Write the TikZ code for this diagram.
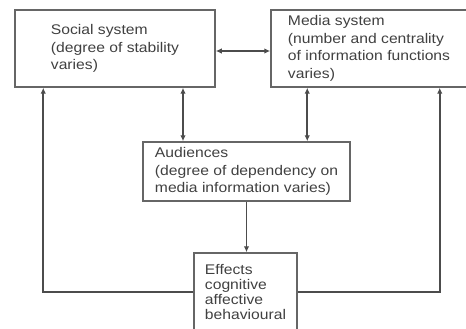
\documentclass[tikz,border=0pt]{standalone}
\usepackage{fontspec}
\setmainfont{Liberation Sans}[FakeStretch=1.12]
\usetikzlibrary{arrows.meta,positioning}

\begin{document}
\begin{tikzpicture}[
  x=1pt, y=-1pt,
  box/.style={draw=black!60, line width=1.5pt, align=left, text=black!75, font=\fontsize{14}{17.5}\selectfont, inner sep=0pt},
  arrow/.style={-{Latex[length=6pt, width=5.5pt]}, draw=black!70, line width=1.8pt},
  dblarrow/.style={{Latex[length=6pt, width=5.5pt]}-{Latex[length=6pt, width=5.5pt]}, draw=black!70, line width=1.8pt}
]
\useasboundingbox (0,0) rectangle (466,329);
\node[box, minimum width=200pt, minimum height=77pt] (social) at (115,48.5) {Social system\\(degree of stability\\varies)};
\node[box, minimum width=196pt, minimum height=77pt] (media) at (369,48.5) {Media system\\(number and centrality\\of information functions\\varies)};
\node[box, minimum width=207pt, minimum height=59pt] (aud) at (246.5,171.5) {Audiences\\(degree of dependency on\\media information varies)};
\node[box, minimum width=103pt, minimum height=78pt, font=\fontsize{14}{15}\selectfont] (effects) at (245.5,292) {Effects\\cognitive\\affective\\behavioural};
\coordinate (sa) at ([xshift=68pt]social.south);
\coordinate (ma) at ([xshift=37pt]media.south west);
\coordinate (se) at ([xshift=29pt]social.south west);
\coordinate (me) at ([xshift=-28pt]media.south east);
\draw[dblarrow] (social.east |- 0,51) -- (media.west |- 0,51);
\draw[dblarrow] (sa) -- (sa |- aud.north);
\draw[dblarrow] (ma) -- (ma |- aud.north);
\draw[arrow] (aud.south) -- (aud.south |- effects.north);
\draw[arrow] (effects.west) -| (se);
\draw[arrow] (effects.east) -| (me);
\end{tikzpicture}
\end{document}
